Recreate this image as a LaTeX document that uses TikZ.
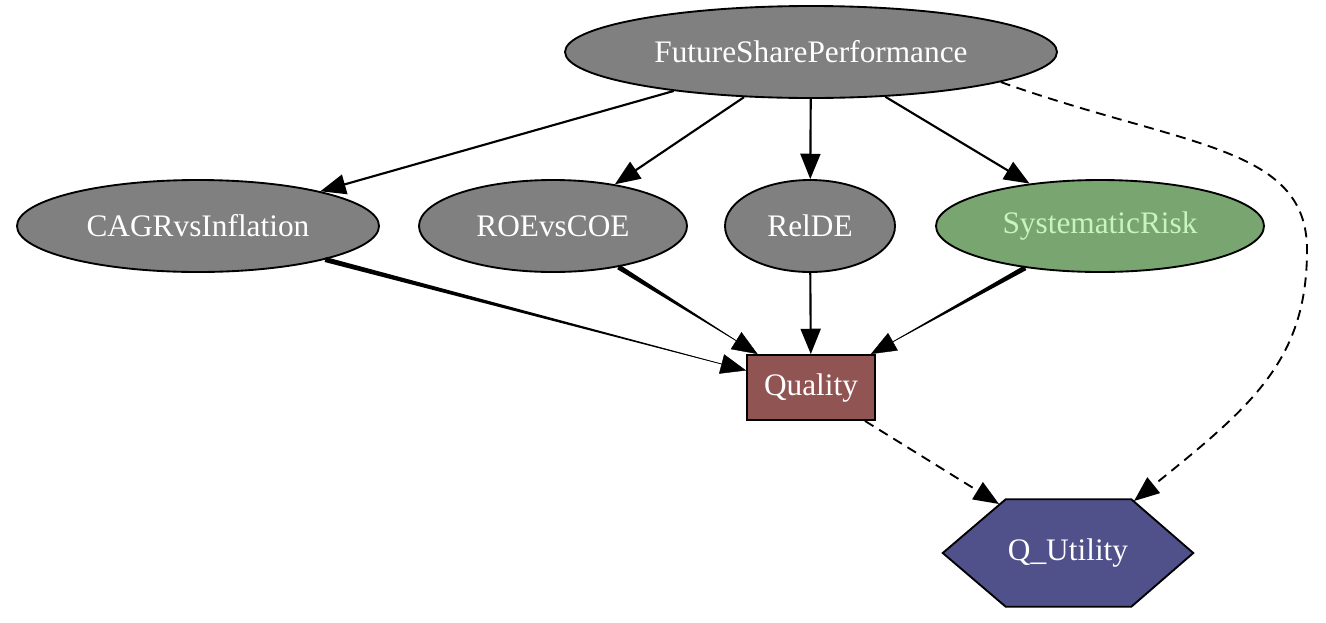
\documentclass[tikz,border=0pt]{standalone}
\usepackage{fontspec}
\setmainfont{Liberation Serif}
\usetikzlibrary{shapes.geometric,arrows.meta,calc,backgrounds}
\definecolor{chancefill}{HTML}{808080}
\definecolor{evfill}{HTML}{79A570}
\definecolor{evtext}{HTML}{C8F5BC}
\definecolor{decfill}{HTML}{905452}
\definecolor{utilfill}{HTML}{50508A}
\newcommand\taperedge[2]{%
  \path (#1) -- (#2) coordinate[pos=0] (ts) coordinate[pos=1] (tt);
  \coordinate (tm) at ($(tt)!19pt!(ts)$);
  \fill ($(ts)!1.9pt!90:(tt)$) -- ($(tm)!0.25pt!-90:(ts)$) -- ($(tm)!0.25pt!90:(ts)$) -- ($(ts)!1.9pt!-90:(tt)$) -- cycle;
  \draw[thinedge] (ts) -- (tt);
}
\begin{document}
\begin{tikzpicture}[x=0.75pt,y=-0.75pt,
  txt/.style={font=\fontsize{23.5}{28}\selectfont},
  chancenode/.style={ellipse, draw=black, line width=1.4pt, fill=chancefill, text=white, inner sep=0pt, minimum height=69pt, txt},
  evnode/.style={chancenode, fill=evfill, text=evtext},
  decnode/.style={rectangle, draw=black, line width=1.4pt, fill=decfill, text=white, inner sep=0pt, minimum width=96pt, minimum height=48.75pt, txt},
  utilnode/.style={rectangle, inner sep=0pt, text=white, minimum width=187.5pt, minimum height=80.25pt, txt},
  tip/.style={-{Triangle[length=19pt,width=15pt]}},
  edge/.style={tip, line width=1.6pt},
  thinedge/.style={tip, line width=0.3pt},
  dashedge/.style={tip, line width=1.4pt, dash pattern=on 7.5pt off 5pt}
]
\useasboundingbox (0,0) rectangle (1326,622);

\node[chancenode, minimum width=369pt] (fsp) at (811,52) {FutureSharePerformance};
\node[chancenode, minimum width=271.5pt] (cagr) at (198,226) {CAGRvsInflation};
\node[chancenode, minimum width=201pt] (roe) at (553,226) {ROEvsCOE};
\node[chancenode, minimum width=127.5pt] (relde) at (810,226) {RelDE};
\node[evnode, minimum width=246pt] (sys) at (1100,226) {SystematicRisk};
\node[decnode] (qual) at (811,387.5) {Quality};
\node[utilnode] (qu) at (1068,553) {Q\_Utility};
\begin{pgfonlayer}{background}
\filldraw[fill=utilfill, draw=black, line width=1.4pt]
  (qu.west) -- ($(qu.north west)+(63,0)$) -- ($(qu.north east)+(-62,0)$) -- (qu.east)
  -- ($(qu.south east)+(-62,0)$) -- ($(qu.south west)+(63,0)$) -- cycle;
\end{pgfonlayer}
\coordinate (qutipA) at (999,504);
\coordinate (qutipB) at (1134,501);

\draw[edge] (fsp) -- (cagr);
\draw[edge] (fsp) -- (roe);
\draw[edge] (fsp) -- (relde);
\draw[edge] (fsp) -- (sys);
\taperedge{cagr}{qual}
\taperedge{roe}{qual}
\draw[edge] (relde) -- (qual);
\taperedge{sys}{qual}
\draw[dashedge] (qual) -- (qutipA);
\draw[dashedge] (fsp.-9) .. controls (1183,147) and (1307,145) .. (1307,250)
  .. controls (1307,360) and (1252,406) .. (qutipB);
\end{tikzpicture}
\end{document}
